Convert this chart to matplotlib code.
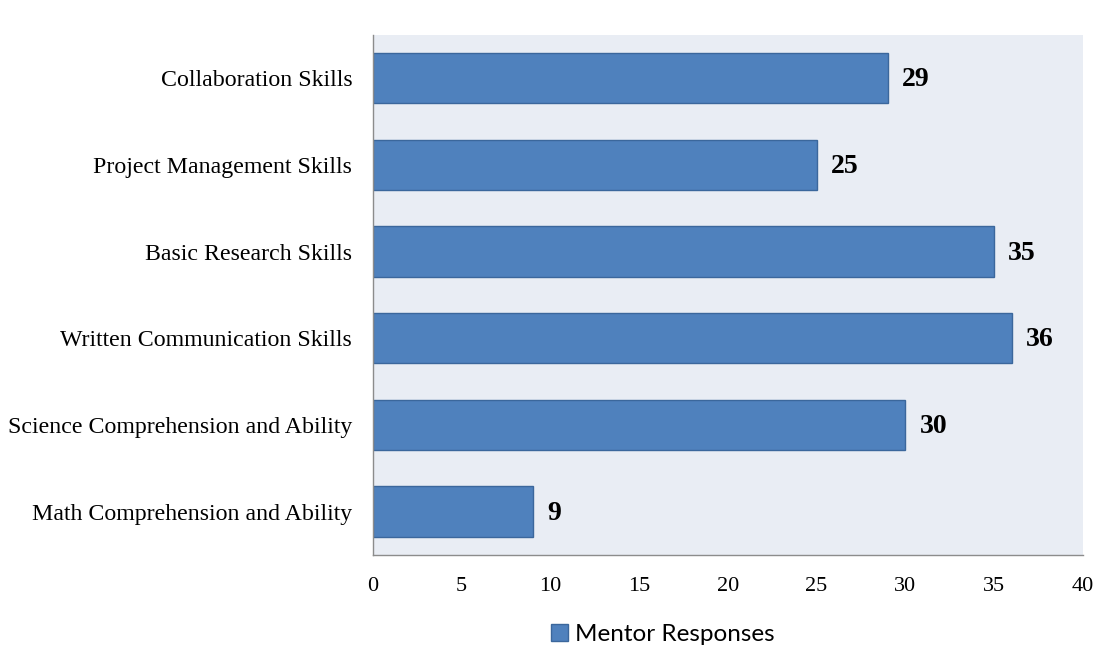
import matplotlib.pyplot as plt
from matplotlib.patches import Patch

# Skill categories, top to bottom
skills = [
    "Collaboration Skills",
    "Project Management Skills",
    "Basic Research Skills",
    "Written Communication Skills",
    "Science Comprehension and Ability",
    "Math Comprehension and Ability",
]
responses = [29, 25, 35, 36, 30, 9]
xticks = [0, 5, 10, 15, 20, 25, 30, 35, 40]

bar_color = "#4F81BD"
edge_color = "#3B679C"

fig = plt.figure(figsize=(10.97, 6.46), dpi=100)
ax = fig.add_axes([0.340, 0.141, 0.647, 0.805])
ax.set_facecolor("#E9EDF4")

y = list(range(len(skills)))[::-1]
ax.barh(y, responses, height=0.58, color=bar_color, edgecolor=edge_color, linewidth=1)

for yi, v in zip(y, responses):
    ax.text(v + 0.8, yi - 0.02, str(v), va="center", ha="left",
            fontsize=20, fontweight="bold", family="Liberation Serif")

ax.set_xlim(0, 40)
ax.set_ylim(-0.5, len(skills) - 0.5)
ax.set_xticks(xticks)
ax.set_xticklabels([str(t) for t in xticks], family="Liberation Serif", fontsize=16)
ax.set_yticks(y)
ax.set_yticklabels(skills, family="Liberation Serif", fontsize=17.2)
ax.tick_params(axis="y", length=0, pad=15)
ax.tick_params(axis="x", length=0, pad=16)

for side in ["top", "right"]:
    ax.spines[side].set_visible(False)
for side in ["left", "bottom"]:
    ax.spines[side].set_color("#8C8C8C")
    ax.spines[side].set_linewidth(1)

handle = Patch(facecolor=bar_color, edgecolor=edge_color, label="Mentor Responses")
fig.legend(handles=[handle], loc="center", bbox_to_anchor=(0.604, 0.018),
           frameon=False, prop={"family": "Lato", "size": 17.5},
           handlelength=0.7, handleheight=0.7, handletextpad=0.3)

fig.savefig("out.png", dpi=100)
